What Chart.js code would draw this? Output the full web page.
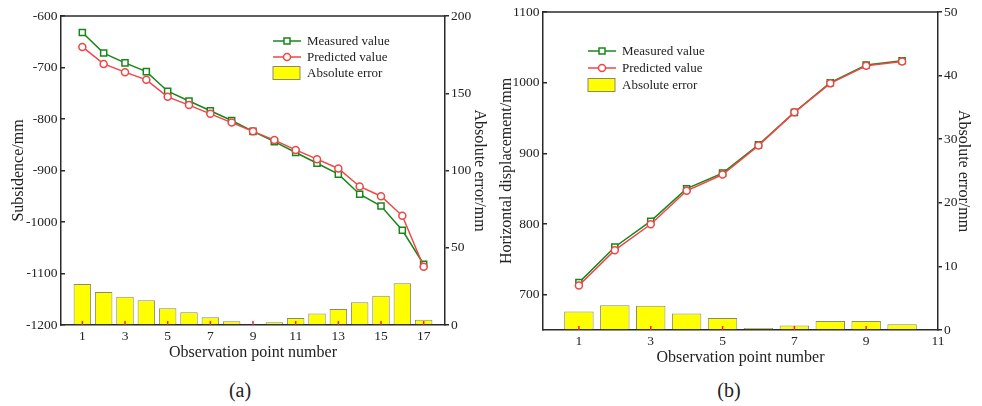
<!DOCTYPE html>
<html>
<head>
<meta charset="utf-8">
<script src="https://cdn.jsdelivr.net/npm/chart.js@4"></script>
<style>
  html, body { margin: 0; padding: 0; background: #fff; }
  body { width: 982px; height: 406px; position: relative; overflow: hidden;
         font-family: 'Liberation Serif', 'Times New Roman', serif; color: #222; }
  .box { position: absolute; width: 491px; }
  .tag { position: absolute; top: 379px; width: 60px; text-align: center; font-size: 20px; }
</style>
</head>
<body>
<div class="box" style="left:0; top:0"><canvas id="chartA" width="491" height="365"></canvas></div>
<div class="box" style="left:491px; top:-4px"><canvas id="chartB" width="491" height="373"></canvas></div>
<div class="tag" style="left:210px">(a)</div>
<div class="tag" style="left:699px">(b)</div>
<script>
// (a) subsidence
const pointsA = [1, 2, 3, 4, 5, 6, 7, 8, 9, 10, 11, 12, 13, 14, 15, 16, 17];
const measuredA = [-632, -672, -691, -708, -746, -765, -784, -803, -824, -844, -865, -886, -907, -946, -969, -1016, -1082];
const predictedA = [-660, -693, -709, -724, -757, -773, -790, -807, -824, -841, -860, -878, -896, -931, -950, -988, -1087];
const errorA = [26.5, 21.4, 18.3, 16, 10.8, 8.2, 5, 2.4, 0, 1.7, 4.5, 7.5, 10.4, 14.7, 19, 27, 3.4];
const xTicksA = [1, 3, 5, 7, 9, 11, 13, 15, 17];
const leftTicksA = [-1200, -1100, -1000, -900, -800, -700, -600];
const rightTicksA = [0, 50, 100, 150, 200];

// (b) horizontal displacement
const pointsB = [1, 2, 3, 4, 5, 6, 7, 8, 9, 10];
const measuredB = [717, 767.5, 804, 850, 872, 912, 958, 1000, 1025, 1031];
const predictedB = [713, 763, 799.6, 847, 870, 911, 958, 999, 1024, 1030];
const errorB = [2.9, 3.9, 3.8, 2.6, 1.9, 0.3, 0.7, 1.4, 1.4, 0.9];
const xTicksB = [1, 3, 5, 7, 9, 11];
const leftTicksB = [700, 800, 900, 1000, 1100];
const rightTicksB = [0, 10, 20, 30, 40, 50];

const GREEN = '#17871a';
const RED = '#ef4646';
const YELLOW = '#ffff00';
const BAR_EDGE = '#8a8a70';
const AXIS = '#2a2a2a';
const TEXT = '#222';
const FONT = "'Liberation Serif', 'Times New Roman', serif";

const tickFont = { family: FONT, size: 13.5 };
const titleFont = { family: FONT, size: 16 };

// top edge of the frame
const frameTop = {
    id: 'frameTop',
    afterDraw(chart) {
        const { ctx, chartArea: a } = chart;
        ctx.save();
        ctx.strokeStyle = AXIS;
        ctx.lineWidth = 1.5;
        ctx.beginPath();
        ctx.moveTo(a.left - 0.75, a.top);
        ctx.lineTo(a.right + 0.75, a.top);
        ctx.stroke();
        ctx.restore();
    }
};

// short red inward ticks on the x axis, drawn over the bars
const redTicks = {
    id: 'redTicks',
    afterDatasetsDraw(chart) {
        const { ctx, chartArea: a } = chart;
        const xs = chart.scales.x;
        ctx.save();
        ctx.strokeStyle = '#ff2020';
        ctx.lineWidth = 1.5;
        xs.ticks.forEach(t => {
            if (t.value >= xs.max) return;
            const px = xs.getPixelForValue(t.value);
            ctx.beginPath();
            ctx.moveTo(px, a.bottom);
            ctx.lineTo(px, a.bottom - 4);
            ctx.stroke();
        });
        ctx.restore();
    }
};

// legend drawn inside the plot
const boxLegend = {
    id: 'boxLegend',
    afterDraw(chart, args, opts) {
        const ctx = chart.ctx;
        const { x, y, gap } = opts;
        ctx.save();
        ctx.font = `13px ${FONT}`;
        ctx.fillStyle = TEXT;
        ctx.textBaseline = 'middle';
        const rows = [
            { label: 'Measured value', color: GREEN, style: 'rect' },
            { label: 'Predicted value', color: RED, style: 'circle' },
            { label: 'Absolute error', style: 'box' }
        ];
        rows.forEach((r, i) => {
            const cy = y + i * gap;
            if (r.style === 'box') {
                ctx.fillStyle = YELLOW;
                ctx.fillRect(x, cy - 6.5, 27, 13);
                ctx.strokeStyle = BAR_EDGE;
                ctx.lineWidth = 1;
                ctx.strokeRect(x, cy - 6.5, 27, 13);
            } else {
                ctx.strokeStyle = r.color;
                ctx.lineWidth = 1.5;
                ctx.beginPath();
                ctx.moveTo(x, cy);
                ctx.lineTo(x + 28, cy);
                ctx.stroke();
                ctx.fillStyle = '#fff';
                ctx.beginPath();
                if (r.style === 'rect') ctx.rect(x + 11, cy - 3, 6, 6);
                else ctx.arc(x + 14, cy, 3.5, 0, Math.PI * 2);
                ctx.fill();
                ctx.stroke();
            }
            ctx.fillStyle = TEXT;
            ctx.fillText(r.label, x + 34, cy + 0.5);
        });
        ctx.restore();
    }
};

const makeChart = (id, o) => {
    const pts = (xs, ys) => xs.map((x, i) => ({ x, y: ys[i] }));
    const fixTicks = list => s => { s.ticks = list.map(v => ({ value: v })); };
    return new Chart(document.getElementById(id), {
        type: 'line',
        data: {
            datasets: [{
                label: 'Predicted value',
                data: pts(o.points, o.predicted),
                yAxisID: 'y',
                order: 0,
                borderColor: RED,
                pointBorderColor: RED,
                pointBackgroundColor: '#fff',
                pointStyle: 'circle',
                pointRadius: 3.5,
                pointBorderWidth: 1.5,
                borderWidth: 1.5
            }, {
                label: 'Measured value',
                data: pts(o.points, o.measured),
                yAxisID: 'y',
                order: 1,
                borderColor: GREEN,
                pointBorderColor: GREEN,
                pointBackgroundColor: '#fff',
                pointStyle: 'rect',
                pointRadius: 4.3,
                pointBorderWidth: 1.5,
                borderWidth: 1.5
            }, {
                type: 'bar',
                label: 'Absolute error',
                data: pts(o.points, o.error),
                yAxisID: 'y1',
                order: 2,
                backgroundColor: YELLOW,
                borderColor: BAR_EDGE,
                borderWidth: 1,
                barPercentage: 0.82,
                categoryPercentage: 1
            }]
        },
        options: {
            responsive: false,
            animation: false,
            events: [],
            layout: { padding: { top: o.top, left: 0, right: 0, bottom: 0 } },
            plugins: {
                legend: { display: false },
                tooltip: { enabled: false },
                boxLegend: o.legend
            },
            scales: {
                x: {
                    type: 'linear',
                    min: 0,
                    max: o.xMax,
                    offset: false,
                    afterBuildTicks: fixTicks(o.xTicks),
                    afterFit: s => { s.height = o.xHeight; },
                    grid: { drawOnChartArea: false, drawTicks: false, offset: false },
                    border: { color: AXIS, width: 1.5 },
                    ticks: { font: tickFont, color: TEXT, padding: 3, maxRotation: 0, autoSkip: false },
                    title: { display: true, text: 'Observation point number', font: titleFont, color: TEXT,
                             padding: { top: 0, bottom: o.xTitlePad } }
                },
                y: {
                    type: 'linear',
                    position: 'left',
                    min: o.yMin,
                    max: o.yMax,
                    afterBuildTicks: fixTicks(o.leftTicks),
                    afterFit: s => { s.width = o.leftW; },
                    grid: { drawOnChartArea: false, color: AXIS, lineWidth: 1.5, tickLength: -4 },
                    border: { color: AXIS, width: 1.5 },
                    ticks: { font: tickFont, color: TEXT, padding: 7.5, callback: v => String(v) },
                    title: { display: true, text: o.yTitle, font: titleFont, color: TEXT,
                             padding: { top: o.yTitlePad, bottom: 0 } }
                },
                y1: {
                    type: 'linear',
                    position: 'right',
                    min: 0,
                    max: o.y1Max,
                    afterBuildTicks: fixTicks(o.rightTicks),
                    afterFit: s => { s.width = o.rightW; },
                    grid: { drawOnChartArea: false, color: AXIS, lineWidth: 1.5, tickLength: 4 },
                    border: { color: AXIS, width: 1.5 },
                    ticks: { font: tickFont, color: TEXT, padding: 2, callback: v => String(v) },
                    title: { display: true, text: 'Absolute error/mm', font: titleFont, color: TEXT,
                             padding: { top: o.y1TitlePad, bottom: 0 } }
                }
            }
        },
        plugins: [frameTop, redTicks, boxLegend]
    });
};

makeChart('chartA', {
    points: pointsA, measured: measuredA, predicted: predictedA, error: errorA,
    xTicks: xTicksA, leftTicks: leftTicksA, rightTicks: rightTicksA,
    xMax: 18, yMin: -1200, yMax: -600, y1Max: 200,
    top: 16, leftW: 61, rightW: 46, xHeight: 40,
    xTitlePad: 3, yTitlePad: 9, y1TitlePad: 2,
    yTitle: 'Subsidence/mm',
    legend: { x: 273, y: 41, gap: 16 }
});

makeChart('chartB', {
    points: pointsB, measured: measuredB, predicted: predictedB, error: errorB,
    xTicks: xTicksB, leftTicks: leftTicksB, rightTicks: rightTicksB,
    xMax: 11, yMin: 650, yMax: 1100, y1Max: 50,
    top: 16, leftW: 52, rightW: 44, xHeight: 39,
    xTitlePad: 2, yTitlePad: 6, y1TitlePad: 9,
    yTitle: 'Horizontal displacement/mm',
    legend: { x: 97, y: 55, gap: 17 }
});
</script>
</body>
</html>
